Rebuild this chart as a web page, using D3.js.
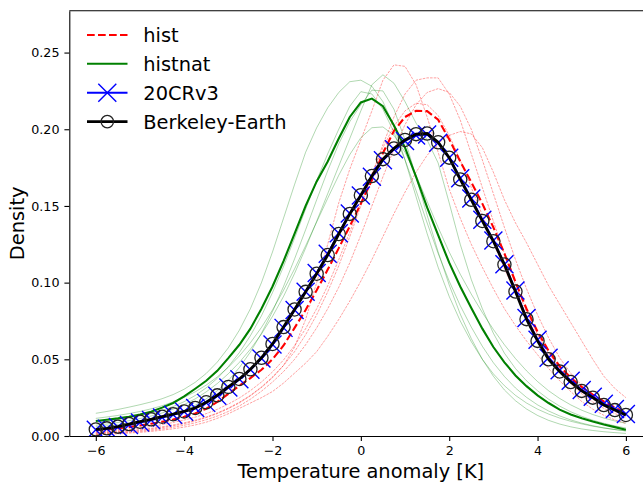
<!DOCTYPE html>
<html>
<head>
<meta charset="utf-8">
<script src="https://cdn.jsdelivr.net/npm/d3@7"></script>
<style>
  body { margin: 0; background: #fff; }
  svg { display: block; font-family: "DejaVu Sans", sans-serif; }
</style>
</head>
<body>
<svg width="643" height="485"></svg>
<script>
// temperature grid shared by every curve
var temps = [-6, -5.75, -5.5, -5.25, -5, -4.75, -4.5, -4.25,
  -4, -3.75, -3.5, -3.25, -3, -2.75, -2.5, -2.25,
  -2, -1.75, -1.5, -1.25, -1, -0.75, -0.5, -0.25,
  0, 0.25, 0.5, 0.75, 1, 1.25, 1.5, 1.75,
  2, 2.25, 2.5, 2.75, 3, 3.25, 3.5, 3.75,
  4, 4.25, 4.5, 4.75, 5, 5.25, 5.5, 5.75,
  6];

var berkeley = [0.0043, 0.0050, 0.0061, 0.0078, 0.0093, 0.0109, 0.0126, 0.0142,
  0.0160, 0.0183, 0.0220, 0.0265, 0.0320, 0.0372, 0.0435, 0.0510,
  0.0600, 0.0710, 0.0825, 0.0940, 0.1058, 0.1180, 0.1317, 0.1448,
  0.1570, 0.1695, 0.1805, 0.1875, 0.1930, 0.1968, 0.1972, 0.1915,
  0.1815, 0.1673, 0.1540, 0.1402, 0.1270, 0.1118, 0.0942, 0.0762,
  0.0620, 0.0500, 0.0421, 0.0352, 0.0294, 0.0250, 0.0202, 0.0169,
  0.0137];

var cr20v3 = [0.0040, 0.0048, 0.0058, 0.0072, 0.0088, 0.0104, 0.0121, 0.0139,
  0.0158, 0.0182, 0.0216, 0.0262, 0.0316, 0.0370, 0.0432, 0.0505,
  0.0596, 0.0705, 0.0822, 0.0940, 0.1062, 0.1188, 0.1322, 0.1450,
  0.1568, 0.1690, 0.1798, 0.1870, 0.1924, 0.1960, 0.1966, 0.1912,
  0.1815, 0.1680, 0.1548, 0.1410, 0.1275, 0.1120, 0.0948, 0.0770,
  0.0628, 0.0510, 0.0428, 0.0360, 0.0300, 0.0256, 0.0210, 0.0176,
  0.0143];

var histMean = [0.0038, 0.0043, 0.0050, 0.0058, 0.0068, 0.0080, 0.0093, 0.0108,
  0.0125, 0.0147, 0.0178, 0.0222, 0.0275, 0.0328, 0.0378, 0.0432,
  0.0500, 0.0590, 0.0705, 0.0822, 0.0950, 0.1085, 0.1225, 0.1368,
  0.1515, 0.1668, 0.1845, 0.1990, 0.2080, 0.2120, 0.2118, 0.2062,
  0.1935, 0.1790, 0.1655, 0.1515, 0.1360, 0.1190, 0.1005, 0.0830,
  0.0680, 0.0555, 0.0455, 0.0380, 0.0320, 0.0270, 0.0225, 0.0185,
  0.0150];

var histnatMean = [0.0098, 0.0106, 0.0115, 0.0126, 0.0140, 0.0158, 0.0185, 0.0215,
  0.0258, 0.0308, 0.0360, 0.0425, 0.0508, 0.0595, 0.0700, 0.0830,
  0.0975, 0.1140, 0.1320, 0.1500, 0.1660, 0.1790, 0.1940, 0.2080,
  0.2175, 0.2200, 0.2150, 0.2025, 0.1880, 0.1690, 0.1490, 0.1310,
  0.1130, 0.0975, 0.0835, 0.0700, 0.0580, 0.0480, 0.0395, 0.0325,
  0.0265, 0.0215, 0.0172, 0.0140, 0.0115, 0.0094, 0.0075, 0.0058,
  0.0041];

// single members, drawn thin
var histRun1 = [0.0018, 0.0021, 0.0025, 0.0030, 0.0036, 0.0044, 0.0054, 0.0066,
  0.0080, 0.0098, 0.0120, 0.0146, 0.0178, 0.0216, 0.0262, 0.0316,
  0.0380, 0.0460, 0.0580, 0.0760, 0.1000, 0.1250, 0.1520, 0.1740,
  0.1930, 0.2120, 0.2320, 0.2420, 0.2410, 0.2290, 0.2080, 0.1850,
  0.1610, 0.1420, 0.1250, 0.1100, 0.0960, 0.0830, 0.0720, 0.0620,
  0.0530, 0.0440, 0.0360, 0.0290, 0.0225, 0.0175, 0.0135, 0.0105,
  0.0082];
var histRun2 = [0.0020, 0.0024, 0.0029, 0.0035, 0.0042, 0.0050, 0.0060, 0.0072,
  0.0086, 0.0103, 0.0124, 0.0150, 0.0182, 0.0220, 0.0265, 0.0320,
  0.0385, 0.0460, 0.0550, 0.0660, 0.0790, 0.0940, 0.1110, 0.1300,
  0.1500, 0.1700, 0.1900, 0.2080, 0.2230, 0.2320, 0.2335, 0.2335,
  0.2230, 0.2060, 0.1840, 0.1620, 0.1400, 0.1190, 0.0990, 0.0810,
  0.0660, 0.0540, 0.0440, 0.0360, 0.0295, 0.0240, 0.0195, 0.0160,
  0.0130];
var histRun3 = [0.0012, 0.0015, 0.0019, 0.0024, 0.0030, 0.0037, 0.0046, 0.0057,
  0.0070, 0.0086, 0.0106, 0.0130, 0.0160, 0.0196, 0.0240, 0.0292,
  0.0352, 0.0420, 0.0500, 0.0595, 0.0705, 0.0830, 0.0970, 0.1130,
  0.1310, 0.1500, 0.1690, 0.1870, 0.2030, 0.2160, 0.2240, 0.2265,
  0.2240, 0.2150, 0.2000, 0.1800, 0.1580, 0.1360, 0.1150, 0.0960,
  0.0790, 0.0640, 0.0510, 0.0410, 0.0330, 0.0265, 0.0215, 0.0175,
  0.0145];
var histRun4 = [0.0025, 0.0030, 0.0036, 0.0043, 0.0052, 0.0062, 0.0074, 0.0088,
  0.0104, 0.0123, 0.0146, 0.0174, 0.0208, 0.0248, 0.0296, 0.0352,
  0.0418, 0.0496, 0.0590, 0.0700, 0.0830, 0.0980, 0.1150, 0.1330,
  0.1520, 0.1710, 0.1880, 0.2020, 0.2120, 0.2170, 0.2160, 0.2090,
  0.1960, 0.1800, 0.1620, 0.1440, 0.1260, 0.1090, 0.0930, 0.0780,
  0.0640, 0.0520, 0.0420, 0.0340, 0.0275, 0.0222, 0.0180, 0.0146,
  0.0118];
var histRun5 = [0.0010, 0.0012, 0.0015, 0.0019, 0.0024, 0.0030, 0.0038, 0.0047,
  0.0058, 0.0072, 0.0090, 0.0115, 0.0145, 0.0180, 0.0215, 0.0250,
  0.0290, 0.0345, 0.0410, 0.0475, 0.0550, 0.0650, 0.0760, 0.0880,
  0.1010, 0.1150, 0.1300, 0.1450, 0.1590, 0.1720, 0.1830, 0.1910,
  0.1960, 0.1985, 0.1970, 0.1880, 0.1720, 0.1540, 0.1390, 0.1260,
  0.1120, 0.0980, 0.0860, 0.0740, 0.0620, 0.0500, 0.0390, 0.0310,
  0.0250];

var histnatRun1 = [0.0070, 0.0078, 0.0088, 0.0100, 0.0114, 0.0130, 0.0150, 0.0175,
  0.0205, 0.0242, 0.0288, 0.0342, 0.0406, 0.0480, 0.0566, 0.0665,
  0.0780, 0.0910, 0.1060, 0.1225, 0.1400, 0.1580, 0.1760, 0.1940,
  0.2120, 0.2290, 0.2355, 0.2300, 0.2180, 0.2040, 0.1930, 0.1780,
  0.1520, 0.1250, 0.1020, 0.0830, 0.0670, 0.0540, 0.0440, 0.0360,
  0.0295, 0.0240, 0.0195, 0.0158, 0.0128, 0.0103, 0.0083, 0.0066,
  0.0052];
var histnatRun2 = [0.0148, 0.0160, 0.0173, 0.0188, 0.0204, 0.0222, 0.0243, 0.0270,
  0.0305, 0.0350, 0.0408, 0.0482, 0.0575, 0.0690, 0.0830, 0.1000,
  0.1200, 0.1420, 0.1640, 0.1850, 0.2010, 0.2140, 0.2240, 0.2310,
  0.2320, 0.2280, 0.2180, 0.2020, 0.1800, 0.1560, 0.1320, 0.1100,
  0.0910, 0.0750, 0.0615, 0.0500, 0.0405, 0.0328, 0.0265, 0.0215,
  0.0175, 0.0143, 0.0117, 0.0096, 0.0079, 0.0064, 0.0052, 0.0042,
  0.0034];
var histnatRun3 = [0.0090, 0.0098, 0.0107, 0.0118, 0.0131, 0.0147, 0.0167, 0.0192,
  0.0224, 0.0264, 0.0314, 0.0376, 0.0452, 0.0544, 0.0654, 0.0784,
  0.0935, 0.1105, 0.1290, 0.1480, 0.1665, 0.1840, 0.2000, 0.2150,
  0.2245, 0.2230, 0.2130, 0.1980, 0.1800, 0.1600, 0.1390, 0.1190,
  0.1010, 0.0850, 0.0710, 0.0585, 0.0478, 0.0388, 0.0313, 0.0252,
  0.0203, 0.0163, 0.0131, 0.0105, 0.0084, 0.0067, 0.0053, 0.0042,
  0.0033];
var histnatRun4 = [0.0115, 0.0124, 0.0134, 0.0146, 0.0160, 0.0177, 0.0197, 0.0222,
  0.0252, 0.0288, 0.0332, 0.0385, 0.0448, 0.0522, 0.0608, 0.0708,
  0.0822, 0.0950, 0.1090, 0.1240, 0.1395, 0.1550, 0.1700, 0.1835,
  0.1945, 0.2010, 0.2015, 0.1960, 0.1850, 0.1700, 0.1530, 0.1360,
  0.1200, 0.1055, 0.0925, 0.0805, 0.0695, 0.0595, 0.0505, 0.0425,
  0.0355, 0.0295, 0.0245, 0.0203, 0.0168, 0.0140, 0.0117, 0.0098,
  0.0083];
var histnatRun5 = [0.0060, 0.0066, 0.0073, 0.0082, 0.0093, 0.0106, 0.0122, 0.0142,
  0.0168, 0.0200, 0.0242, 0.0295, 0.0362, 0.0446, 0.0548, 0.0670,
  0.0812, 0.0975, 0.1155, 0.1345, 0.1540, 0.1730, 0.1905, 0.2050,
  0.2160, 0.2255, 0.2250, 0.2130, 0.1930, 0.1690, 0.1440, 0.1200,
  0.0985, 0.0795, 0.0635, 0.0500, 0.0390, 0.0300, 0.0230, 0.0176,
  0.0134, 0.0102, 0.0078, 0.0060, 0.0046, 0.0036, 0.0028, 0.0022,
  0.0017];

var xTicks = [-6, -4, -2, 0, 2, 4, 6];
var yTicks = [0, 0.05, 0.10, 0.15, 0.20, 0.25];
var legendLabels = ["hist", "histnat", "20CRv3", "Berkeley-Earth"];

var histRuns = [histRun1, histRun2, histRun3, histRun4, histRun5];
var histnatRuns = [histnatRun1, histnatRun2, histnatRun3, histnatRun4, histnatRun5];

var svg = d3.select("svg"),
  margin = { top: 10.7, left: 69.3 },
  width = 583.1,   // axes run past the right edge of the picture
  height = 425.3,
  g = svg.append("g")
    .attr("transform", "translate(" + margin.left + "," + margin.top + ")");

var x = d3.scaleLinear().domain([-6.6, 6.6]).range([0, width]);
var y = d3.scaleLinear().domain([0, 0.2773]).range([height, 0]);

function pts(vals) {
  return temps.map(function(t, i) { return [t, vals[i]]; });
}

var line = d3.line()
  .x(function(d) { return x(d[0]); })
  .y(function(d) { return y(d[1]); });

svg.append("defs").append("clipPath").attr("id", "plotclip")
  .append("rect").attr("width", width).attr("height", height);

var plot = g.append("g").attr("clip-path", "url(#plotclip)");

// members
plot.selectAll(".histrun")
  .data(histRuns)
  .enter()
  .append("path")
  .attr("class", "histrun")
  .attr("d", function(d) { return line(pts(d)); })
  .attr("fill", "none")
  .attr("stroke", "red")
  .attr("stroke-opacity", 0.5)
  .attr("stroke-width", 0.75)
  .attr("stroke-dasharray", "2.6,1.1");

plot.selectAll(".natrun")
  .data(histnatRuns)
  .enter()
  .append("path")
  .attr("class", "natrun")
  .attr("d", function(d) { return line(pts(d)); })
  .attr("fill", "none")
  .attr("stroke", "green")
  .attr("stroke-opacity", 0.35)
  .attr("stroke-width", 0.9);

// ensemble means
plot.append("path")
  .attr("d", line(pts(histMean)))
  .attr("fill", "none")
  .attr("stroke", "red")
  .attr("stroke-width", 2.1)
  .attr("stroke-dasharray", "7.7,3.3");

plot.append("path")
  .attr("d", line(pts(histnatMean)))
  .attr("fill", "none")
  .attr("stroke", "green")
  .attr("stroke-width", 2.1);

// 20CRv3
plot.append("path")
  .attr("d", line(pts(cr20v3)))
  .attr("fill", "none")
  .attr("stroke", "blue")
  .attr("stroke-width", 2.1);

var xMark = "M-9,-9L9,9M-9,9L9,-9";

plot.selectAll(".xmark")
  .data(pts(cr20v3))
  .enter()
  .append("path")
  .attr("class", "xmark")
  .attr("transform", function(d) { return "translate(" + x(d[0]) + "," + y(d[1]) + ")"; })
  .attr("d", xMark)
  .attr("stroke", "blue")
  .attr("stroke-width", 1.4);

// Berkeley-Earth
plot.append("path")
  .attr("d", line(pts(berkeley)))
  .attr("fill", "none")
  .attr("stroke", "black")
  .attr("stroke-width", 2.8);

plot.selectAll(".omark")
  .data(pts(berkeley))
  .enter()
  .append("circle")
  .attr("class", "omark")
  .attr("cx", function(d) { return x(d[0]); })
  .attr("cy", function(d) { return y(d[1]); })
  .attr("r", 6.6)
  .attr("fill", "none")
  .attr("stroke", "#222")
  .attr("stroke-width", 1.3);

// axes
var xAxis = g.append("g")
  .attr("transform", "translate(0," + height + ")")
  .call(d3.axisBottom(x).tickValues(xTicks).tickSize(4.9).tickPadding(4.9).tickSizeOuter(0));

var yAxis = g.append("g")
  .call(d3.axisLeft(y).tickValues(yTicks).tickFormat(d3.format(".2f"))
    .tickSize(4.9).tickPadding(4.9).tickSizeOuter(0));

[xAxis, yAxis].forEach(function(a) {
  a.attr("font-family", "DejaVu Sans").attr("font-size", 12.7);
  a.selectAll("text").attr("fill", "#000");
  a.selectAll("line").attr("stroke", "#000").attr("stroke-width", 1.1);
  a.select(".domain").attr("stroke", "#000").attr("stroke-width", 1.1);
});

// top spine
g.append("line")
  .attr("x1", 0).attr("x2", width)
  .attr("y1", 0).attr("y2", 0)
  .attr("stroke", "#000").attr("stroke-width", 1.1);

g.append("line")
  .attr("x1", width).attr("x2", width)
  .attr("y1", 0).attr("y2", height)
  .attr("stroke", "#000").attr("stroke-width", 1.1);

svg.append("text")
  .attr("x", margin.left + x(0))
  .attr("y", 478)
  .attr("text-anchor", "middle")
  .attr("font-size", 19.4)
  .text("Temperature anomaly [K]");

svg.append("text")
  .attr("transform", "translate(24," + (margin.top + height / 2) + ") rotate(-90)")
  .attr("text-anchor", "middle")
  .attr("font-size", 19.4)
  .text("Density");

// legend
var legendY = [35, 63.8, 92.7, 121.6];
var leg = svg.append("g");

var rows = leg.selectAll(".row")
  .data(legendLabels)
  .enter()
  .append("g")
  .attr("class", "row")
  .attr("transform", function(d, i) { return "translate(87," + legendY[i] + ")"; });

rows.append("line")
  .attr("x1", 0).attr("x2", 40.5)
  .attr("stroke", function(d, i) { return ["red", "green", "blue", "black"][i]; })
  .attr("stroke-width", function(d, i) { return i == 3 ? 2.8 : 2.1; })
  .attr("stroke-dasharray", function(d, i) { return i == 0 ? "7.7,3.3" : null; });

rows.filter(function(d, i) { return i == 2; })
  .append("path")
  .attr("transform", "translate(20.3,0)")
  .attr("d", xMark)
  .attr("stroke", "blue")
  .attr("stroke-width", 1.4);

rows.filter(function(d, i) { return i == 3; })
  .append("circle")
  .attr("cx", 20.3)
  .attr("r", 6.2)
  .attr("fill", "none")
  .attr("stroke", "#222")
  .attr("stroke-width", 1.3);

rows.append("text")
  .attr("x", 56.3)
  .attr("y", 7.2)
  .attr("font-size", 19.4)
  .text(function(d) { return d; });
</script>
</body>
</html>
